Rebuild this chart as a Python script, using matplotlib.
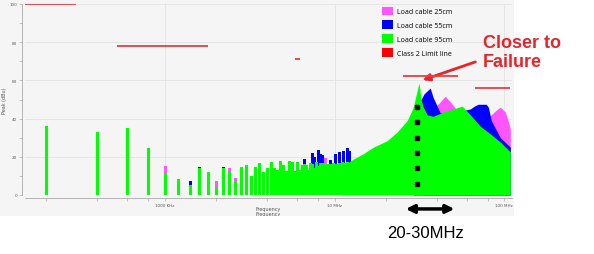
import numpy as np
import matplotlib
matplotlib.use('Agg')
import matplotlib.pyplot as plt
from matplotlib.patches import Patch, Rectangle
from matplotlib.ticker import FixedLocator, NullFormatter

MHZ = 1e6

# discrete harmonics (MHz, peak dBu)
green_bar_mhz = [0.2, 0.4, 0.6, 0.8, 1.0, 1.2, 1.4, 1.6, 1.8, 2.0, 2.2, 2.4, 2.6, 2.8, 3.0,
                 3.2, 3.4, 3.6, 3.8, 4.0, 4.2, 4.4, 4.6, 4.8, 5.0, 5.2, 5.4, 5.6, 5.8, 6.0,
                 6.2, 6.4, 6.6, 6.8, 7.0, 7.2, 7.4, 7.6, 7.8, 8.0, 8.2, 8.4, 8.6, 8.8, 9.0,
                 9.2, 9.4, 9.6, 9.8, 10.0, 10.2, 10.4, 10.6, 10.8, 11.0, 11.2, 11.4, 11.6, 11.8]
green_bar_db = [36, 33, 35, 24.5, 11, 8.5, 5, 14, 12.2, 4, 14, 12.5, 7.5, 14.5, 15.7,
                10.1, 14.5, 16.8, 12.2, 14, 17.4, 14, 13.1, 17.6, 15.7, 12.7, 17.6, 17.1, 12.4, 17.1,
                13.2, 15.7, 16, 15.9, 13, 17, 16, 14, 17.5, 15, 16.5, 14, 17, 15, 16,
                14.5, 16, 15, 16.5, 15.5, 16, 15, 17, 16, 17.5, 16.5, 17, 16, 17.5]
blue_bar_mhz = [1.4, 1.6, 2.2, 6.6, 7.4, 7.6, 8.0, 8.2, 8.4, 9.4, 10.0, 10.6, 11.2, 11.8, 12.2]
blue_bar_db = [7.5, 14.7, 14.7, 18.8, 22, 19.9, 23.7, 21.3, 21, 18.3, 21.5, 22.7, 22.9, 24.6, 23.2]
magenta_bar_mhz = [1.0, 1.4, 2.0, 2.4, 2.6, 8.6, 8.8]
magenta_bar_db = [15, 7, 7.5, 14, 8.9, 18.6, 19.4]

# dense part of the spectrum (envelope)
green_env_mhz = [11.0, 12.0, 12.9, 14.7, 16.9, 20.4, 23.4, 26.8, 29.1, 31.1, 31.5, 32.3, 33.3,
                 35.1, 38.1, 43.6, 50.0, 56.5, 63.0, 72.2, 82.7, 94.7, 108.5]
green_env_db = [15, 17, 18.8, 21.5, 25, 28.4, 33, 39, 46, 57, 58.6, 50, 46,
                42, 41.2, 43.4, 45, 46.5, 42, 36, 32, 27.7, 22.5]
blue_env_mhz = [29.1, 32.3, 33.7, 36.6, 38.1, 40.0, 41.9, 50.0, 58.8, 63.0, 66.5, 70.1, 78.3,
                80.5, 83.8, 94.7, 108.5]
blue_env_db = [40, 50, 53, 56, 51, 47, 43, 43, 44.5, 45, 46.5, 47.5, 47.5,
               46, 39, 30, 25]
magenta_env_mhz = [33.3, 36.6, 40.2, 44.9, 49.4, 53.5, 63.0, 72.2, 75.1, 82.7, 88.5, 94.7,
                   101.3, 105.2, 108.5]
magenta_env_db = [40, 42, 47, 51.7, 47.5, 43.5, 42, 38, 38.5, 41.5, 44, 46,
                  43.5, 39, 34.5]

# class 2 limit segments
limit_start_mhz = [0.15, 0.52, 5.85, 25.3, 67.5]
limit_end_mhz = [0.30, 1.79, 6.25, 53.4, 108.5]
limit_db = [100, 78, 71, 62.3, 56]

marker_mhz = 30.7
marker_db = [46, 38, 30, 22, 14, 5.5]
arrow_span_mhz = (25.3, 52.8)

x_ticks_hz = [1e6, 1e7, 1e8]
x_tick_labels = ['1000 KHz', '10 MHz', '100 MHz']
y_ticks = [0, 20, 40, 60, 80, 100]

series_labels = ['Load cable 25cm', 'Load cable 55cm', 'Load cable 95cm', 'Class 2 Limit line']
series_colors = ['#ff55ff', '#0000ff', '#00ff00', '#ff0000']
limit_color = '#f03c3c'

fig = plt.figure(figsize=(5.94, 2.55), dpi=100)
bg = Rectangle((0, 38 / 255), 514 / 594, 217 / 255, transform=fig.transFigure,
               facecolor='#f5f5f5', edgecolor='none', zorder=-5)
fig.patches.append(bg)

ax = fig.add_axes([25 / 594, 59 / 255, 487 / 594, 191 / 255])
ax.set_facecolor('none')
ax.set_xscale('log')
ax.set_xlim(150e3, 111e6)
ax.set_ylim(0, 100)

def hz(values):
    return np.array(values) * MHZ

bar_kw = dict(lw=0.85, antialiased=False)
ax.vlines(hz(magenta_bar_mhz), 0, magenta_bar_db, colors=series_colors[0], zorder=2, **bar_kw)
ax.vlines(hz(blue_bar_mhz), 0, blue_bar_db, colors=series_colors[1], zorder=2, **bar_kw)
ax.vlines(hz(green_bar_mhz), 0, green_bar_db, colors=series_colors[2], zorder=3, **bar_kw)

ax.fill_between(hz(magenta_env_mhz), 0, magenta_env_db, color=series_colors[0], lw=0, zorder=2)
ax.fill_between(hz(blue_env_mhz), 0, blue_env_db, color=series_colors[1], lw=0, zorder=2.5)
ax.fill_between(hz(green_env_mhz), 0, green_env_db, color=series_colors[2], lw=0, zorder=3)

ax.hlines(limit_db, hz(limit_start_mhz), hz(limit_end_mhz), colors=limit_color, lw=1.3, zorder=4)

ax.plot([marker_mhz * MHZ] * len(marker_db), marker_db, 's', color='black', ms=2.8, zorder=5)

# axes look
for side in ['top', 'right']:
    ax.spines[side].set_visible(False)
for side in ['left', 'bottom']:
    ax.spines[side].set_position(('outward', 2.2))
    ax.spines[side].set_color('#9a9a9a')
    ax.spines[side].set_linewidth(0.5)

ax.set_xticks(x_ticks_hz)
ax.set_xticklabels(x_tick_labels)
ax.xaxis.set_minor_locator(FixedLocator([m * d for d in [1e5, 1e6, 1e7] for m in [2, 4, 6, 8]]))
ax.xaxis.set_minor_formatter(NullFormatter())
ax.set_yticks(y_ticks)
ax.yaxis.set_minor_locator(FixedLocator([10, 30, 50, 70, 90]))
ax.tick_params(axis='both', which='both', length=2, width=0.4, color='#9a9a9a',
               labelsize=3, pad=1.5, labelcolor='#555555')
ax.grid(True, which='major', color='#e3e3e3', lw=0.6, zorder=0)
ax.set_axisbelow(True)

ax.set_ylabel('Peak (dBu)', fontsize=3.5, color='#555555')
ax.yaxis.set_label_coords(-0.037, 0.5)
ax.set_xlabel('Frequency', fontsize=3.5, color='#555555')
ax.xaxis.set_label_coords(0.5, -0.06)
dup = fig.text(268 / 594, 1 - 212 / 255, 'Frequency', fontsize=3.5, color='#555555',
               ha='center', va='top')
dup.set_clip_path(bg)

handles = [Patch(facecolor=c, edgecolor='none', label=l) for c, l in zip(series_colors, series_labels)]
ax.legend(handles=handles, loc='upper left', bbox_to_anchor=(382 / 594, 1 - 7.5 / 255),
          bbox_transform=fig.transFigure, frameon=False,
          prop={'family': 'Open Sans', 'size': 5}, handlelength=1.6, handleheight=1.6,
          handletextpad=0.6, labelspacing=0.72, borderpad=0, borderaxespad=0)

# annotations
ax.annotate('', xy=(arrow_span_mhz[1] * MHZ, -0.073), xycoords=('data', 'axes fraction'),
            xytext=(arrow_span_mhz[0] * MHZ, -0.073), textcoords=('data', 'axes fraction'),
            arrowprops=dict(arrowstyle='<|-|>', color='black', lw=2.5, mutation_scale=12),
            annotation_clip=False)
fig.text(426 / 594, 1 - 234 / 255, '20-30MHz', ha='center', va='center', fontsize=12,
         family='Liberation Sans')
fig.text(483 / 594, 1 - 53 / 255, 'Closer to\nFailure', ha='left', va='center', fontsize=13,
         fontweight='bold', color='#e8232a', family='Liberation Sans', linespacing=1.2)
ax.annotate('', xy=(420, 255 - 82), xycoords='figure pixels',
            xytext=(478, 255 - 62), textcoords='figure pixels',
            arrowprops=dict(arrowstyle='-|>', color='#e8232a', lw=2, mutation_scale=10),
            annotation_clip=False)

fig.savefig('out.png', dpi=100)
